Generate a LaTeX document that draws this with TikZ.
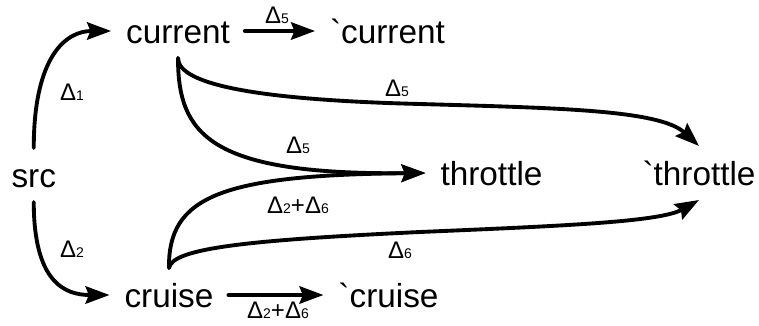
\documentclass[tikz,border=0pt]{standalone}
\usepackage{fontspec}
\setmainfont{Liberation Sans}
\usetikzlibrary{arrows.meta}

\newcommand{\dlt}[1]{Δ{\fontsize{10.5}{11}\selectfont #1}}

\begin{document}
\begin{tikzpicture}[
			x=0.75pt, y=-0.75pt,
			state/.style={font=\fontsize{25}{25}\selectfont, inner sep=0pt, outer sep=11.25pt, text height=18pt, text depth=0pt, anchor=base},
			lbl/.style={font=\fontsize{18}{18}\selectfont, inner sep=0pt},
			conn/.style={-{Stealth[length=18pt, width=13pt, inset=2.5pt]}, line width=2.9pt},
			line cap=round,
			line join=round
			]
			\useasboundingbox (0,0) rectangle (759,325);
			
			% states
			\node[state] (src) at (33.75,187) {src};
			\node[state] (cur) at (178,43) {current};
			\node[state] (curp) at (387.5,43) {\textasciigrave current};
			\node[state] (thr) at (491.5,185) {throttle};
			\node[state] (thrp) at (699,185) {\textasciigrave throttle};
			\node[state] (cru) at (169,307) {cruise};
			\node[state] (crup) at (388.5,307) {\textasciigrave cruise};
			
			% connectors
			\draw[conn] (src.north) .. controls +(0,-92) and +(-45,0) .. (cur.west);
			\draw[conn] (src.south) .. controls +(0,80) and +(-45,0) .. (cru.west);
			\draw[conn] (cur.east) -- (curp.west);
			\draw[conn] (cru.east) -- (crup.west);
			\draw[conn] (cur.south) .. controls (178,135) and (210,175) .. (thr.west);
			\draw[conn] (cur.south) .. controls (178,85) and (260,100) .. (420,104)
				.. controls (560,108) and (660,110) .. (thrp.north);
			\draw[conn] (cru.north) .. controls (168,197) and (220,175) .. (thr.west);
			\draw[conn] (cru.north) .. controls (172,248) and (250,240) .. (420,232)
				.. controls (560,226) and (660,222) .. (thrp.south);
			
			% labels
			\node[lbl] (l1) at (72,92) {\dlt{1}};
			\node[lbl] (l2) at (72,249) {\dlt{2}};
			\node[lbl] (l5a) at (277,15) {\dlt{5}};
			\node[lbl] (l5b) at (397,88) {\dlt{5}};
			\node[lbl] (l5c) at (298,145) {\dlt{5}};
			\node[lbl] (l26a) at (298,205) {\dlt{2}+\dlt{6}};
			\node[lbl] (l6) at (400,250) {\dlt{6}};
			\node[lbl] (l26b) at (278,310) {\dlt{2}+\dlt{6}};
		\end{tikzpicture}
\end{document}
